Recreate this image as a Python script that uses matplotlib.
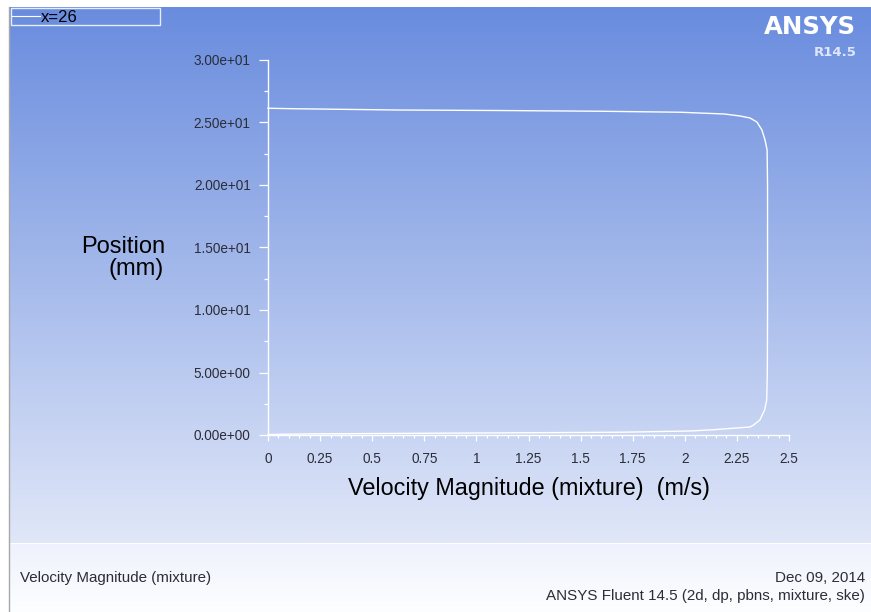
import numpy as np
import matplotlib
matplotlib.use("Agg")
import matplotlib.pyplot as plt
from matplotlib.patches import Rectangle
from matplotlib.ticker import MultipleLocator, FixedLocator, FuncFormatter

# Velocity profile across the section x=26 (velocity in m/s, position in mm)
velocity = [0.0, 0.13, 0.62, 1.10, 1.60, 1.98, 2.19, 2.265, 2.313, 2.346, 2.37,
            2.385, 2.395, 2.397, 2.397, 2.397, 2.396, 2.393, 2.383, 2.36, 2.33,
            2.313, 2.25, 2.135, 2.025, 1.69, 0.54, 0.20, 0.0]
position = [26.14, 26.10, 26.00, 25.96, 25.90, 25.82, 25.68, 25.52, 25.36, 25.04, 24.40,
            23.60, 22.80, 20.00, 15.00, 10.00, 5.00, 2.80, 2.00, 1.20, 0.80,
            0.64, 0.56, 0.42, 0.32, 0.22, 0.12, 0.09, 0.04]

x_ticks = [0, 0.25, 0.5, 0.75, 1, 1.25, 1.5, 1.75, 2, 2.25, 2.5]
y_ticks = [0, 5, 10, 15, 20, 25, 30]

W, H = 871, 612
FONT = ["Liberation Sans", "DejaVu Sans"]
TXT = "#2b2d38"

fig = plt.figure(figsize=(W / 100, H / 100), dpi=100)
fig.patch.set_facecolor("white")

# Background layer in pixel coordinates
bg = fig.add_axes([0, 0, 1, 1])
bg.set_xlim(0, W)
bg.set_ylim(H, 0)
bg.axis("off")

def vgrad(c0, c1, n=256):
    c0 = np.array(c0) / 255.0
    c1 = np.array(c1) / 255.0
    t = np.linspace(0, 1, n)[:, None]
    return (c0 + (c1 - c0) * t)[:, None, :]

bg.imshow(vgrad((105, 140, 222), (224, 231, 248)), extent=(9, W, 543, 7),
          aspect="auto", interpolation="bilinear", zorder=0)
bg.imshow(vgrad((238, 242, 252), (253, 254, 255)), extent=(9, W, 612, 544),
          aspect="auto", interpolation="bilinear", zorder=0)
bg.plot([8.5, 8.5], [7, 612], color="#a8a8a8", lw=1.0, zorder=1)

# Legend box
bg.add_patch(Rectangle((10.5, 7.5), 149, 17, fill=False, ec="#e6ecfa", lw=1.0, zorder=2))
bg.plot([12, 40], [15.5, 15.5], color="white", lw=0.8, zorder=2)
bg.text(41, 17, "x=26", color="black", fontsize=12, family=FONT,
        va="center", ha="left", zorder=3)

# Logo
bg.text(856, 27, "ANSYS", color="white", fontsize=17.6, fontweight="bold",
        family=["DejaVu Sans"], ha="right", va="center", zorder=3)
bg.text(857, 52, "R14.5", color="#dde6fb", fontsize=9.5, fontweight="bold",
        family=["DejaVu Sans"], ha="right", va="center", zorder=3)

# Footer text
bg.text(20, 578, "Velocity Magnitude (mixture)", color=TXT, fontsize=10.9,
        family=FONT, ha="left", va="center")
bg.text(865, 578, "Dec 09, 2014", color=TXT, fontsize=10.9,
        family=FONT, ha="right", va="center")
bg.text(865, 596, "ANSYS Fluent 14.5 (2d, dp, pbns, mixture, ske)", color=TXT,
        fontsize=10.9, family=FONT, ha="right", va="center")

# Axis titles
bg.text(165, 247, "Position", color="black", fontsize=17, family=FONT,
        ha="right", va="center")
bg.text(164, 269, "(mm)", color="black", fontsize=17, family=FONT,
        ha="right", va="center")
bg.text(529, 489, "Velocity Magnitude (mixture)  (m/s)", color="black",
        fontsize=16.8, family=FONT, ha="center", va="center")

# Plot area
ax = fig.add_axes([268 / W, (H - 435) / H, (789 - 268) / W, 375 / H])
ax.patch.set_alpha(0)
ax.set_xlim(0, 2.5)
ax.set_ylim(0, 30)

for side in ("top", "right"):
    ax.spines[side].set_visible(False)
for side in ("left", "bottom"):
    ax.spines[side].set_color("white")
    ax.spines[side].set_linewidth(1.0)

ax.xaxis.set_major_locator(FixedLocator(x_ticks))
ax.xaxis.set_minor_locator(MultipleLocator(0.05))
ax.yaxis.set_major_locator(FixedLocator(y_ticks))
ax.yaxis.set_minor_locator(MultipleLocator(2.5))
ax.xaxis.set_major_formatter(FuncFormatter(lambda v, p: f"{v:g}"))
ax.yaxis.set_major_formatter(FuncFormatter(lambda v, p: f"{v:.2e}"))

ax.tick_params(axis="x", which="major", direction="out", length=4.5, width=0.9,
               color="white", pad=8, labelsize=9.8, labelcolor=TXT)
ax.tick_params(axis="x", which="minor", direction="out", length=2.2, width=0.9,
               color="white")
ax.tick_params(axis="y", which="major", direction="out", length=6.5, width=0.9,
               color="white", pad=6, labelsize=9.8, labelcolor=TXT)
ax.tick_params(axis="y", which="minor", direction="out", length=2.8, width=0.9,
               color="white")
for lab in ax.get_xticklabels() + ax.get_yticklabels():
    lab.set_family(FONT)

ax.plot(velocity, position, color="white", lw=1.0, clip_on=False,
        solid_joinstyle="round")

fig.savefig("out.png", dpi=100, facecolor=fig.get_facecolor())
